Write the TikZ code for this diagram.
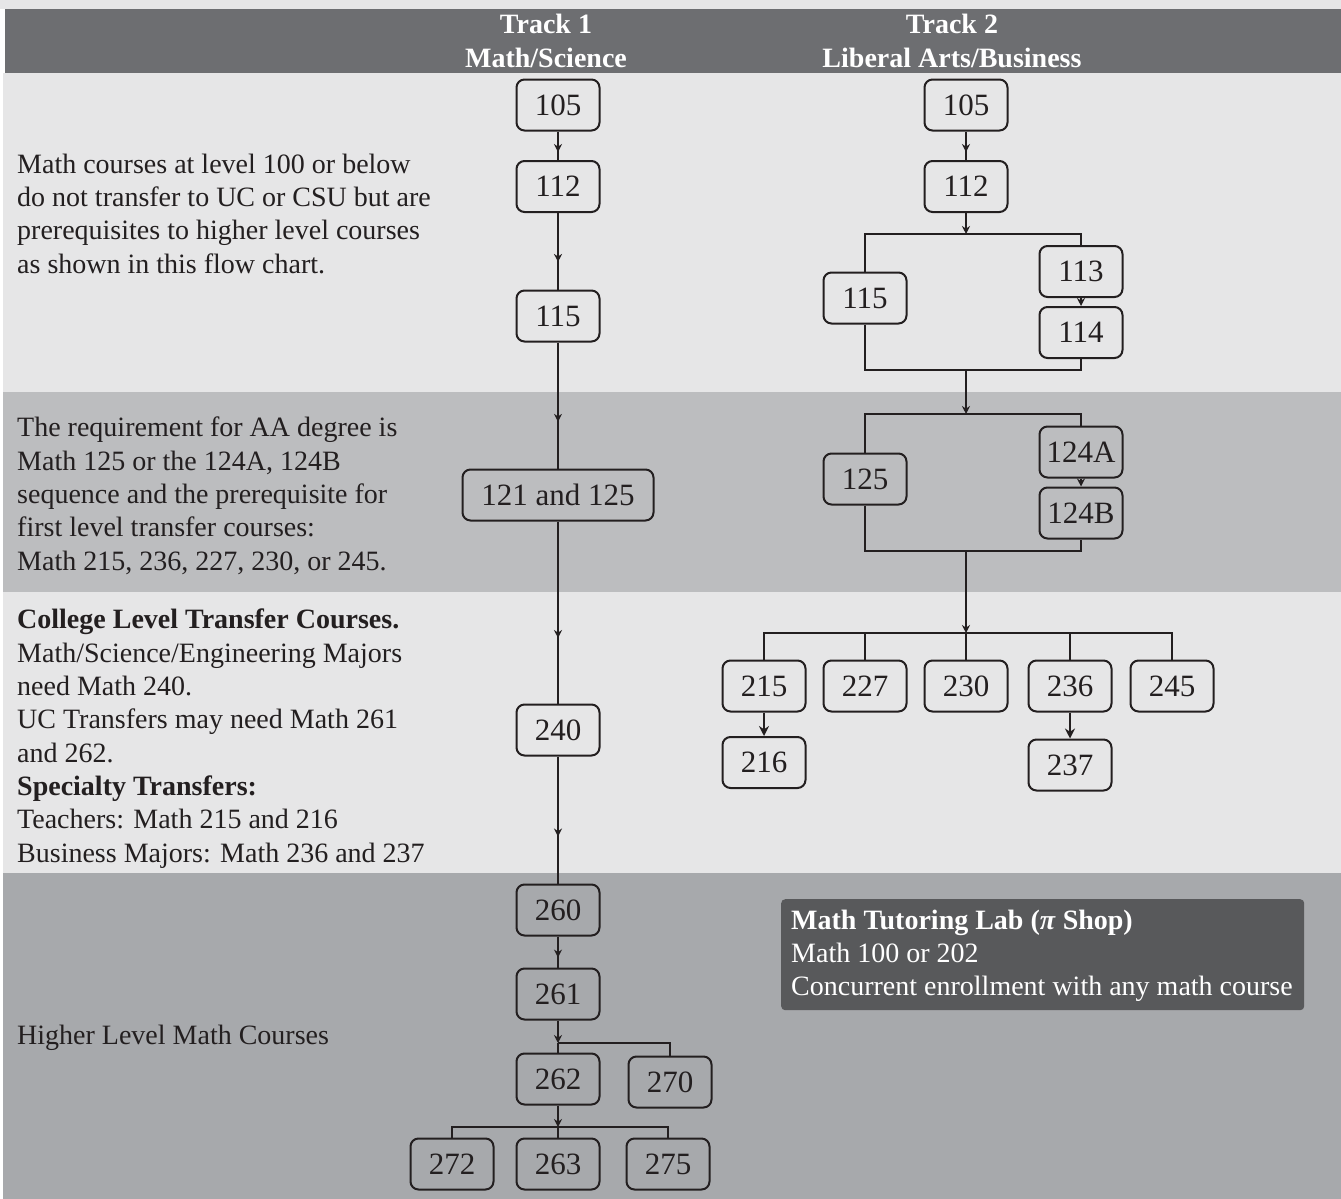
\documentclass[tikz,border=0pt]{standalone}
\usepackage{fontspec}
\setmainfont{Liberation Serif}
\usetikzlibrary{arrows.meta,decorations.markings}
\definecolor{lightbg}{HTML}{E6E6E7}
\definecolor{headbg}{HTML}{6D6E71}
\definecolor{bandtwo}{HTML}{BCBDBF}
\definecolor{bandfour}{HTML}{A7A9AC}
\definecolor{pibox}{HTML}{58595B}
\definecolor{ink}{HTML}{231F20}
\begin{document}
\begin{tikzpicture}[x=1pt,y=-1pt,
  box/.style={draw=ink, line width=2pt, rounded corners=8pt, minimum width=83pt,
    minimum height=51pt, inner sep=0pt, text=ink, font=\fontsize{31}{36}\selectfont},
  conn/.style={draw=ink, line width=2pt},
  smalltip/.tip={Stealth[length=8pt,width=8pt]},
  bigtip/.tip={Stealth[length=10pt,width=10pt]},
  midarrow/.style={postaction={decorate}, decoration={markings,
    mark=at position #1 with {\arrow{smalltip}}}},
  sidetext/.style={anchor=base west, align=left, inner sep=0pt, text=ink,
    font=\fontsize{28}{33.3}\selectfont},
  headtext/.style={anchor=base, align=center, inner sep=0pt, text=white,
    font=\bfseries\fontsize{28}{34}\selectfont}]
\useasboundingbox (0,0) rectangle (1341,1199);
% backgrounds
\fill[white] (0,0) rectangle (1341,1199);
\fill[lightbg] (0,0) rectangle (1341,9);
\fill[headbg] (5,9) rectangle (1341,73);
\fill[lightbg] (3,73) rectangle (1341,392);
\fill[bandtwo] (3,392) rectangle (1341,592);
\fill[lightbg] (3,592) rectangle (1341,873);
\fill[bandfour] (3,873) rectangle (1341,1199);

% header (anchor base = baseline of last line)
\node[headtext] (h1) at (546,67) {Track 1\\Math/Science};
\node[headtext] (h2) at (952,67) {Track 2\\Liberal Arts/Business};

% side texts (anchor base = baseline of last line)
\node[sidetext] (t1) at (17,273) {Math courses at level 100 or below\\do not transfer to UC or CSU but are\\prerequisites to higher level courses\\as shown in this flow chart.};
\node[sidetext] (t2) at (17,570) {The requirement for AA degree is\\Math 125 or the 124A, 124B\\sequence and the prerequisite for\\first level transfer courses:\\Math 215, 236, 227, 230, or 245.};
\node[sidetext] (t3) at (17,862) {\textbf{College Level Transfer Courses.}\\Math/Science/Engineering Majors\\need Math 240.\\UC Transfers may need Math 261\\and 262.\\\textbf{Specialty Transfers:}\\Teachers: Math 215 and 216\\Business Majors: Math 236 and 237};
\node[sidetext] (t4) at (17,1044) {Higher Level Math Courses};

% tutoring lab
\node[fill=pibox, rounded corners=4pt, minimum width=523pt, minimum height=111pt,
  inner sep=0pt, anchor=north west] (lab) at (781,899) {};
\node[sidetext, text=white] (labtext) at (791,995.6) {\textbf{Math Tutoring Lab (\textit{π} Shop)}\\Math 100 or 202\\Concurrent enrollment with any math course};

% Track 1
\node[box] (a105) at (558,105) {105};
\node[box] (a112) at (558,186.5) {112};
\node[box] (a115) at (558,316) {115};
\node[box, minimum width=191pt] (a121) at (558,495) {121 and 125};
\node[box] (a240) at (558,730) {240};
\node[box] (a260) at (558,910) {260};
\node[box] (a261) at (558,994) {261};
\node[box] (a262) at (558,1079) {262};
\node[box] (a270) at (670,1082) {270};
\node[box] (a272) at (452,1164) {272};
\node[box] (a263) at (558,1164) {263};
\node[box] (a275) at (668,1164) {275};
\coordinate (k1) at (558,1043);
\coordinate (k2) at (558,1127);

\draw[conn, midarrow=0.72] (a105) -- (a112);
\draw[conn, midarrow=0.64] (a112) -- (a115);
\draw[conn, midarrow=0.63] (a115) -- (a121);
\draw[conn, midarrow=0.64] (a121) -- (a240);
\draw[conn, midarrow=0.63] (a240) -- (a260);
\draw[conn, midarrow=0.68] (a260) -- (a261);
\draw[conn, -smalltip] (a261) -- (k1);
\draw[conn] (k1) -- (a262);
\draw[conn] (k1) -| (a270.north);
\draw[conn, -smalltip] (a262) -- (k2);
\draw[conn] (a272.north) |- (k2) -| (a275.north);
\draw[conn] (k2) -- (a263);

% Track 2
\node[box] (b105) at (966,105) {105};
\node[box] (b112) at (966,186.5) {112};
\node[box] (b115) at (865,298) {115};
\node[box] (b113) at (1081,271.5) {113};
\node[box] (b114) at (1081,332.5) {114};
\node[box] (b125) at (865,479) {125};
\node[box] (b124a) at (1081,452) {124A};
\node[box] (b124b) at (1081,513) {124B};
\node[box] (c215) at (764,686) {215};
\node[box] (c227) at (865,686) {227};
\node[box] (c230) at (966,686) {230};
\node[box] (c236) at (1070,686) {236};
\node[box] (c245) at (1172,686) {245};
\node[box] (c216) at (764,762.5) {216};
\node[box] (c237) at (1070,765) {237};
\coordinate (j1) at (966,234);
\coordinate (j2) at (966,370);
\coordinate (j3) at (966,414);
\coordinate (j4) at (966,551);
\coordinate (j5) at (966,633);

\draw[conn, midarrow=0.72] (b105) -- (b112);
\draw[conn, -smalltip] (b112) -- (j1);
\draw[conn] (b115.north) |- (j1) -| (b113.north);
\draw[conn, -smalltip] (b113) -- (b114);
\draw[conn] (b115.south) |- (j2) -| (b114.south);
\draw[conn, -smalltip] (j2) -- (j3);
\draw[conn] (b125.north) |- (j3) -| (b124a.north);
\draw[conn, -smalltip] (b124a) -- (b124b);
\draw[conn] (b125.south) |- (j4) -| (b124b.south);
\draw[conn, -smalltip] (j4) -- (j5);
\draw[conn] (c215.north) |- (j5) -| (c245.north);
\draw[conn] (j5) -- (c230);
\draw[conn] (c227.north) -- (c227.north |- j5);
\draw[conn] (c236.north) -- (c236.north |- j5);
\draw[conn, -bigtip] (c215) -- (c216);
\draw[conn, -bigtip] (c236) -- (c237);
\end{tikzpicture}
\end{document}
